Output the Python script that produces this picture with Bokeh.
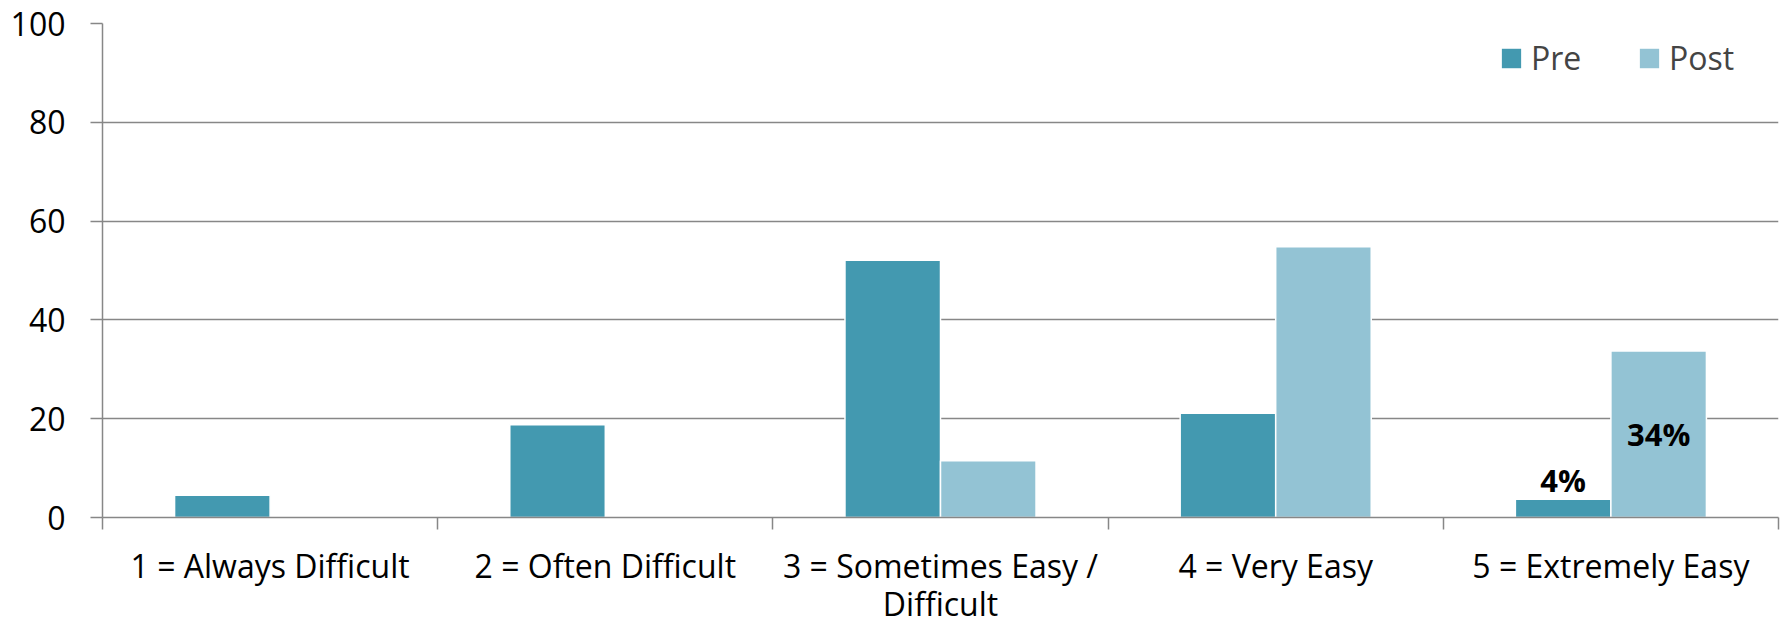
from bokeh.plotting import figure
from bokeh.models import ColumnDataSource, FixedTicker, Legend, LegendItem, Range1d
from bokeh.core.properties import value
from bokeh.embed import file_html
from bokeh.resources import INLINE

categories = ["1 = Always Difficult", "2 = Often Difficult", "3 = Sometimes Easy /\nDifficult",
              "4 = Very Easy", "5 = Extremely Easy"]
pre = [4.5, 18.8, 52.1, 21.1, 3.7]
post = [0.0, 0.0, 11.5, 54.8, 33.7]
labeled_category = 4  # index of the category whose bars carry value labels
y_ticks = [0, 20, 40, 60, 80, 100]

PRE_COLOR = "#4399B0"
POST_COLOR = "#93C3D4"
GRID = "#878787"
FONT = "Open Sans"

n = len(categories)
xc = [i + 0.5 for i in range(n)]
bw = 0.285

src = ColumnDataSource(dict(
    x_pre=[x - bw / 2 for x in xc],
    x_post=[x + bw / 2 for x in xc],
    pre=pre, post=post,
))

p = figure(output_backend="svg", toolbar_location=None,
           frame_width=1676, frame_height=494,
           min_border_left=102, min_border_top=23, min_border_right=9, min_border_bottom=106,
           x_range=Range1d(0, n), y_range=Range1d(0, 100))
p.outline_line_color = None
p.background_fill_color = "white"
p.border_fill_color = "white"

r_pre = p.vbar(x="x_pre", top="pre", width=bw, source=src, fill_color=PRE_COLOR,
               line_color="white", line_width=1.5)
r_post = p.vbar(x="x_post", top="post", width=bw, source=src, fill_color=POST_COLOR,
                line_color="white", line_width=1.5)

# value labels
i = labeled_category
lab_pre = ColumnDataSource(dict(x=[xc[i] - bw / 2], y=[pre[i]], t=[f"{round(pre[i])}%"]))
lab_post = ColumnDataSource(dict(x=[xc[i] + bw / 2], y=[post[i] / 2], t=[f"{round(post[i])}%"]))
p.text(x="x", y="y", text="t", source=lab_pre, text_font=value(FONT), text_font_style="bold",
       text_font_size="31px", text_align="center", text_baseline="bottom", y_offset=2,
       text_color="black")
p.text(x="x", y="y", text="t", source=lab_post, text_font=value(FONT), text_font_style="bold",
       text_font_size="31px", text_align="center", text_baseline="middle",
       text_color="black")

# y axis
ya = p.yaxis[0]
ya.ticker = FixedTicker(ticks=y_ticks)
ya.axis_line_color = GRID
ya.axis_line_width = 1.5
ya.major_tick_line_color = GRID
ya.major_tick_line_width = 1.5
ya.major_tick_out = 12
ya.major_tick_in = 0
ya.minor_tick_line_color = None
ya.major_label_standoff = 25
ya.major_label_text_font = FONT
ya.major_label_text_font_size = "32px"
ya.major_label_text_color = "black"

# x axis
xa = p.xaxis[0]
xa.ticker = FixedTicker(ticks=xc, minor_ticks=list(range(n + 1)))
xa.major_label_overrides = {x: c for x, c in zip(xc, categories)}
xa.axis_line_color = GRID
xa.axis_line_width = 1.5
xa.major_tick_line_color = None
xa.major_tick_out = 0
xa.major_tick_in = 0
xa.minor_tick_line_color = GRID
xa.minor_tick_line_width = 1.5
xa.minor_tick_out = 12
xa.minor_tick_in = 0
xa.major_label_standoff = 14
xa.major_label_text_font = FONT
xa.major_label_text_font_size = "32px"
xa.major_label_text_line_height = 0.9
xa.major_label_text_color = "black"

p.xgrid.visible = False
p.ygrid.ticker = FixedTicker(ticks=y_ticks)
p.ygrid.grid_line_color = GRID
p.ygrid.grid_line_width = 1.5

legend = Legend(items=[LegendItem(label="Pre", renderers=[r_pre]),
                       LegendItem(label="Post", renderers=[r_post])],
                orientation="horizontal", location="top_right",
                border_line_color=None, background_fill_alpha=0,
                glyph_width=26, glyph_height=26, label_standoff=7,
                label_width=96, spacing=9, margin=13, padding=0,
                label_text_font=FONT, label_text_font_size="32px")
p.add_layout(legend)

open("out.html", "w").write(file_html(p, INLINE))
